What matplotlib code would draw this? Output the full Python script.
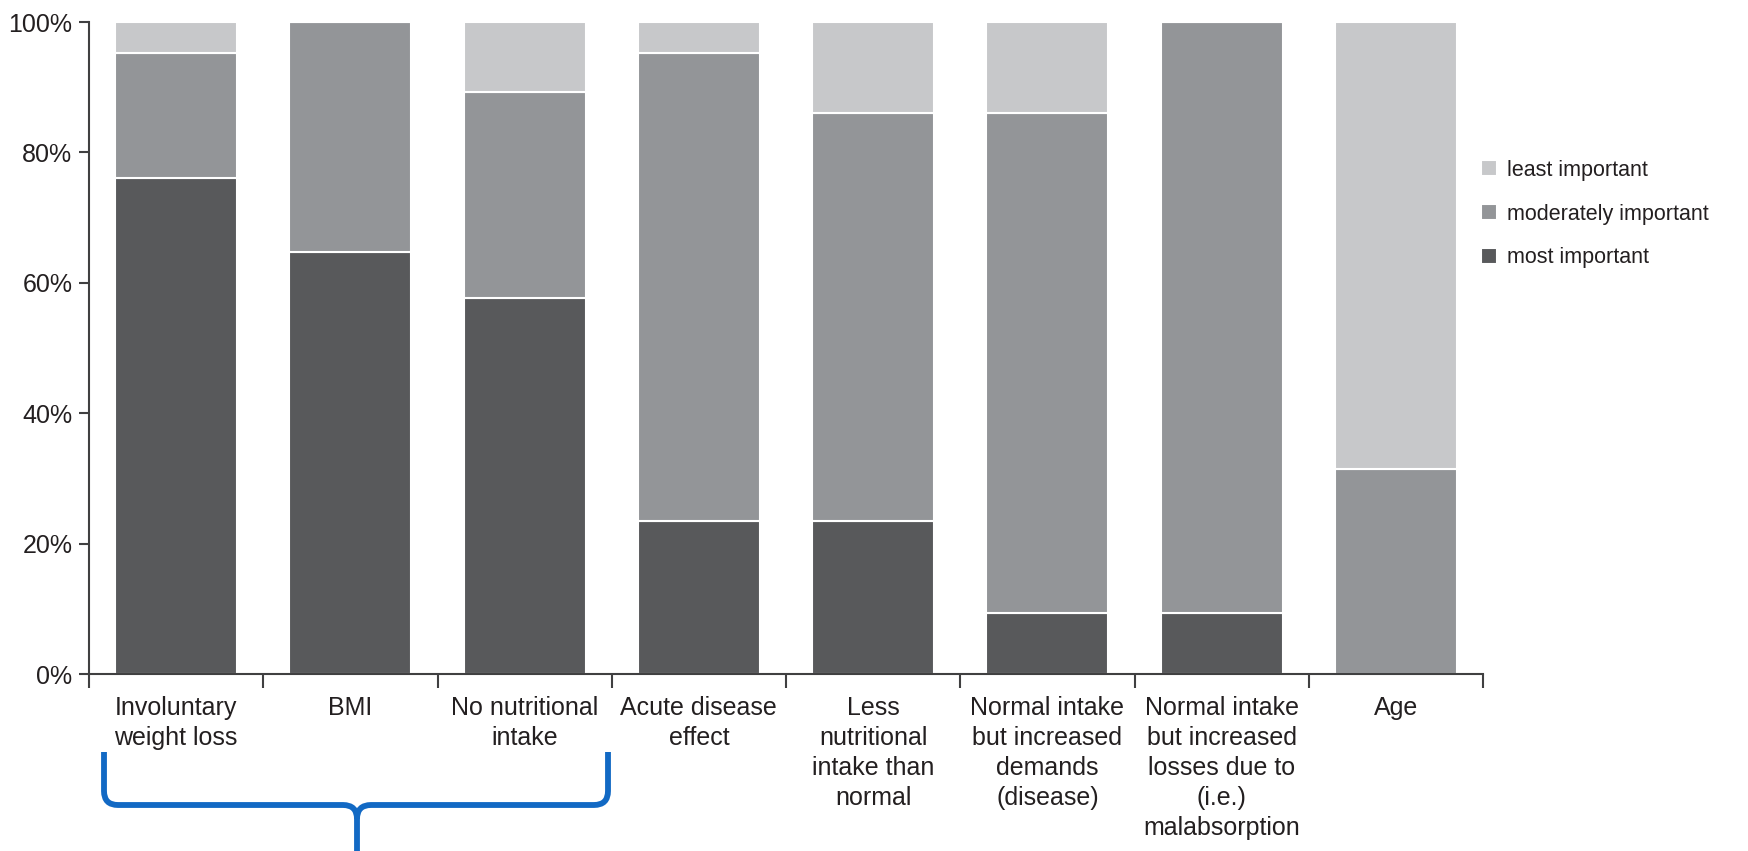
import matplotlib
matplotlib.use("Agg")
import matplotlib.pyplot as plt
from matplotlib.path import Path
from matplotlib.patches import PathPatch
from matplotlib.ticker import FixedLocator, NullFormatter, FuncFormatter
import numpy as np

plt.rcParams["font.family"] = ["Liberation Sans", "DejaVu Sans"]

categories = [
    "Involuntary\nweight loss",
    "BMI",
    "No nutritional\nintake",
    "Acute disease\neffect",
    "Less\nnutritional\nintake than\nnormal",
    "Normal intake\nbut increased\ndemands\n(disease)",
    "Normal intake\nbut increased\nlosses due to\n(i.e.)\nmalabsorption",
    "Age",
]
most_important = [76.1, 64.7, 57.7, 23.4, 23.4, 9.4, 9.4, 0.0]
moderately_important = [19.1, 35.3, 31.6, 71.8, 62.6, 76.6, 90.6, 31.4]
least_important = [4.8, 0.0, 10.7, 4.8, 14.0, 14.0, 0.0, 68.6]
y_ticks = [0, 20, 40, 60, 80, 100]

c_most = "#58595b"
c_mod = "#939598"
c_least = "#c7c8ca"
text_c = "#231f20"
axis_c = "#404041"

W, H, DPI = 1748, 851, 100
fig = plt.figure(figsize=(W / DPI, H / DPI), dpi=DPI)
ax = fig.add_axes([89 / W, 1 - 674 / H, (1483 - 89) / W, (674 - 22) / H])

x = np.arange(len(categories))
most = np.array(most_important)
mod = np.array(moderately_important)
least = np.array(least_important)
bw = 0.70
kw = dict(width=bw, edgecolor="white", linewidth=1.5)
b1 = ax.bar(x, most, color=c_most, label="most important", **kw)
b2 = ax.bar(x, mod, bottom=most, color=c_mod, label="moderately important", **kw)
b3 = ax.bar(x, least, bottom=most + mod, color=c_least, label="least important", **kw)

ax.set_xlim(-0.5, len(categories) - 0.5)
ax.set_ylim(0, 100)

for s in ["top", "right"]:
    ax.spines[s].set_visible(False)
for s in ["left", "bottom"]:
    ax.spines[s].set_color(axis_c)
    ax.spines[s].set_linewidth(1.5)

# y axis
ax.yaxis.set_major_locator(FixedLocator(y_ticks))
ax.yaxis.set_major_formatter(FuncFormatter(lambda v, p: f"{v:.0f}%"))
ax.tick_params(axis="y", direction="out", length=7, width=1.5, color=axis_c,
               labelsize=18, labelcolor=text_c, pad=5)

# x axis: ticks at category boundaries, labels at centres
ax.xaxis.set_major_locator(FixedLocator(np.arange(len(categories) + 1) - 0.5))
ax.xaxis.set_major_formatter(NullFormatter())
ax.xaxis.set_minor_locator(FixedLocator(x))
ax.set_xticklabels(categories, minor=True)
ax.tick_params(axis="x", which="major", direction="out", length=10, width=1.5, color=axis_c)
ax.tick_params(axis="x", which="minor", length=0, pad=16, labelsize=18, labelcolor=text_c)
for lab in ax.get_xticklabels(minor=True):
    lab.set_linespacing(1.31)
    lab.set_verticalalignment("top")

# legend
leg = fig.legend(handles=[b3, b2, b1], labels=["least important", "moderately important", "most important"],
                 loc="upper left", bbox_to_anchor=(1470 / W, 1 - 149 / H), frameon=False,
                 fontsize=15.5, handlelength=0.75, handleheight=0.75, handletextpad=0.45,
                 labelspacing=1.06, borderpad=0)
for t in leg.get_texts():
    t.set_color(text_c)

# brace under the first three categories (figure pixel coordinates, y downward)
def px(xp, yp):
    return (xp / W, 1 - yp / H)

r = 14
xl, xr, xc = 104, 608, 357
ytop, yh, ybot = 752, 805, 851
left_verts = [px(xl, ytop), px(xl, yh - r), px(xl, yh), px(xl + r, yh),
              px(xc - r, yh), px(xc, yh), px(xc, yh + r), px(xc, ybot)]
left_codes = [Path.MOVETO, Path.LINETO, Path.CURVE3, Path.CURVE3,
              Path.LINETO, Path.CURVE3, Path.CURVE3, Path.LINETO]
right_verts = [px(xr, ytop), px(xr, yh - r), px(xr, yh), px(xr - r, yh),
               px(xc + r, yh), px(xc, yh), px(xc, yh + r)]
right_codes = [Path.MOVETO, Path.LINETO, Path.CURVE3, Path.CURVE3,
               Path.LINETO, Path.CURVE3, Path.CURVE3]
for verts, codes in [(left_verts, left_codes), (right_verts, right_codes)]:
    fig.patches.append(PathPatch(Path(verts, codes), transform=fig.transFigure,
                                 facecolor="none", edgecolor="#1269c4", linewidth=4.2,
                                 capstyle="butt", joinstyle="round"))

fig.savefig("out.png", dpi=DPI, facecolor="white")
